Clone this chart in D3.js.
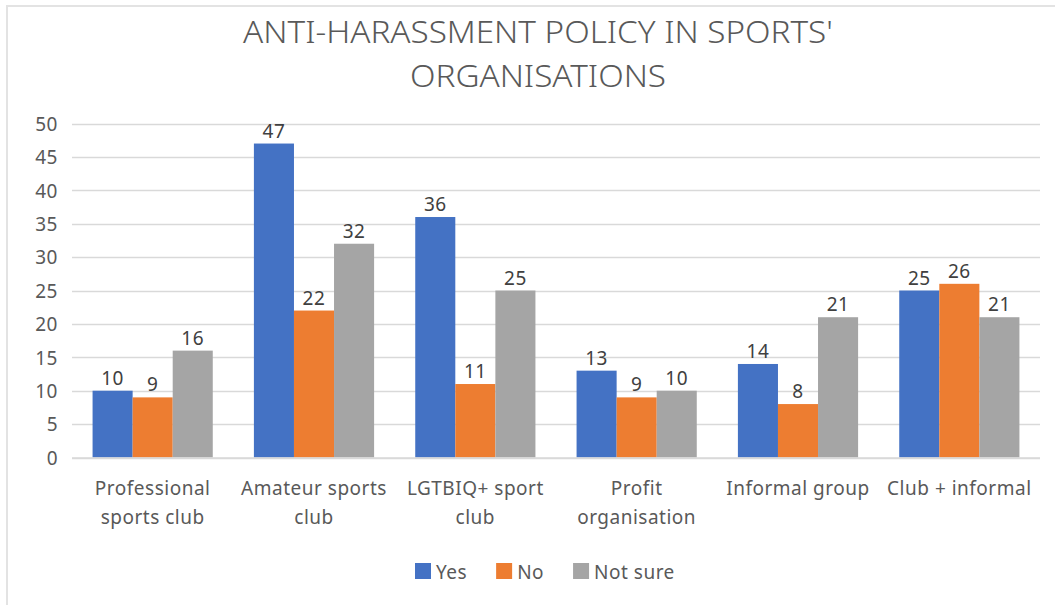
<!DOCTYPE html>
<html><head><meta charset="utf-8">
<script src="https://cdn.jsdelivr.net/npm/d3@7"></script>
<style>
html,body{margin:0;padding:0;background:#fff;}
svg{display:block;}
</style></head>
<body>
<svg id="chart" width="1055" height="605"></svg>
<script>
const categories = [["Professional","sports club"],["Amateur sports","club"],["LGTBIQ+ sport","club"],["Profit","organisation"],["Informal group"],["Club + informal"]];
const seriesNames = ["Yes","No","Not sure"];
const yesValues = [10,47,36,13,14,25];
const noValues = [9,22,11,9,8,26];
const notSureValues = [16,32,25,10,21,21];
const yTicks = [0,5,10,15,20,25,30,35,40,45,50];
const titleLines = ["ANTI-HARASSMENT POLICY IN SPORTS'","ORGANISATIONS"];
const colors = ["#4472c4","#ed7d31","#a5a5a5"];

(function(){
const series = [yesValues, noValues, notSureValues];
const svg = d3.select("#chart");
const font = "'Noto Sans', 'Open Sans', sans-serif";
const fs = 19;
const ls = 0.5;

svg.append("path").attr("d","M7,605 V6 H1055").attr("fill","none").attr("stroke","#e3e3e3").attr("stroke-width",2);

const pL = 72, pR = 1040, pT = 123.5, pB = 457.5;
const x0 = d3.scaleBand().domain(d3.range(categories.length)).range([pL,pR]).paddingInner(0.255).paddingOuter(0.1275);
const x1 = d3.scaleBand().domain(d3.range(seriesNames.length)).range([0,x0.bandwidth()]);
const y = d3.scaleLinear().domain([0,50]).range([pB,pT]);

svg.append("g").selectAll("line").data(yTicks).join("line")
  .attr("x1",pL).attr("x2",pR).attr("y1",d=>Math.round(y(d))+0.5).attr("y2",d=>Math.round(y(d))+0.5)
  .attr("stroke","#d9d9d9").attr("stroke-width",1.3);

const yAxis = d3.axisLeft(y).tickValues(yTicks).tickSize(0).tickPadding(0);
const ya = svg.append("g").attr("transform",`translate(${pL-14},0)`).call(yAxis);
ya.select(".domain").remove();
ya.selectAll("text").attr("font-family",font).attr("font-size",fs).attr("letter-spacing",ls).attr("fill","#595959").attr("dy","0.36em");

const groups = svg.append("g").selectAll("g").data(categories).join("g")
  .attr("transform",(d,i)=>`translate(${x0(i)},0)`);
groups.each(function(c,i){
  const g = d3.select(this);
  series.forEach((s,j)=>{
    g.append("rect").attr("x",x1(j)).attr("width",x1.bandwidth()).attr("y",y(s[i])).attr("height",y(0)-y(s[i])).attr("fill",colors[j]);
    g.append("text").attr("x",x1(j)+x1.bandwidth()/2).attr("y",y(s[i])-6).attr("text-anchor","middle")
      .attr("font-family",font).attr("font-size",fs).attr("letter-spacing",ls).attr("fill","#404040").text(s[i]);
  });
});

svg.append("line").attr("x1",pL).attr("x2",pR).attr("y1",pB+0.5).attr("y2",pB+0.5).attr("stroke","#d9d9d9").attr("stroke-width",1.3);

const cl = svg.append("g");
categories.forEach((c,i)=>{
  const t = cl.append("text").attr("text-anchor","middle").attr("font-family",font).attr("font-size",fs).attr("letter-spacing",ls).attr("fill","#595959");
  c.forEach((line,k)=>{
    t.append("tspan").attr("x",x0(i)+x0.bandwidth()/2).attr("y",495+k*28.5).text(line);
  });
});

const tcx = 538;
const tt = svg.append("text").attr("text-anchor","middle").attr("font-family",font).attr("font-weight",300).attr("font-size",30.5).attr("fill","#595959");
titleLines.forEach((l,k)=>tt.append("tspan").attr("x",tcx).attr("y",43+k*44).text(l));
const w1 = tt.select("tspan").node().getComputedTextLength();
const k = 590 / w1;
tt.attr("transform",`translate(${tcx},0) scale(${k},1) translate(${-tcx},0)`);

const lg = svg.append("g");
let lx = 415;
seriesNames.forEach((n,j)=>{
  lg.append("rect").attr("x",lx).attr("y",563).attr("width",16).attr("height",16).attr("fill",colors[j]);
  const t = lg.append("text").attr("x",lx+21).attr("y",579).attr("font-family",font).attr("font-size",fs).attr("letter-spacing",ls).attr("fill","#595959").text(n);
  lx += 21 + t.node().getComputedTextLength() + 29;
});
})();
</script>
</body></html>
